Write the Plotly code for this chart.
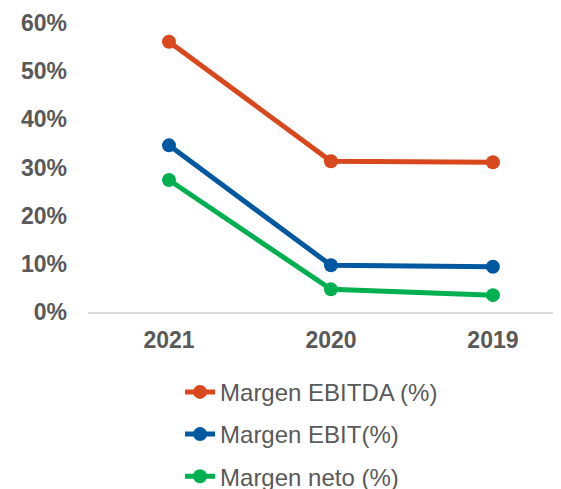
import plotly.graph_objects as go

years = ["2021", "2020", "2019"]
ebitda = [56.1, 31.3, 31.1]
ebit = [34.6, 9.7, 9.4]
neto = [27.4, 4.7, 3.5]
y_ticks = [0, 10, 20, 30, 40, 50, 60]
y_tick_labels = ["0%", "10%", "20%", "30%", "40%", "50%", "60%"]

series = [
    ("Margen EBITDA (%)", ebitda, "#D9481C"),
    ("Margen EBIT(%)", ebit, "#0059A0"),
    ("Margen neto (%)", neto, "#00B050"),
]

fig = go.Figure()
for i, (name, vals, col) in enumerate(series):
    fig.add_trace(go.Scatter(
        x=years, y=vals, name=name, mode="lines+markers",
        line=dict(color=col, width=5),
        marker=dict(color=col, size=14),
        legendgroup=f"g{i}",
    ))

fig.update_layout(
    width=561, height=489,
    margin=dict(l=80, r=9, t=15, b=185, autoexpand=False),
    paper_bgcolor="white", plot_bgcolor="white",
    font=dict(family="Liberation Sans, Arial, sans-serif", color="#595959"),
    showlegend=True,
    legend=dict(
        orientation="v", x=0.195, xanchor="left", y=-0.2, yanchor="top",
        font=dict(size=24, color="#595959"),
        tracegroupgap=8, bgcolor="rgba(0,0,0,0)",
    ),
    xaxis=dict(
        type="category", range=[-0.5, 2.414], automargin=False,
        showgrid=False, showline=True, linecolor="#D9D9D9", linewidth=2,
        tickfont=dict(size=23, color="#595959", family="Liberation Sans, Arial, sans-serif", weight="bold"),
        ticks="", ticklabelstandoff=6, zeroline=False,
    ),
    yaxis=dict(
        range=[0, 60], tickvals=y_ticks, ticktext=y_tick_labels, automargin=False,
        showgrid=False, showline=False, zeroline=False,
        tickfont=dict(size=23, color="#595959", family="Liberation Sans, Arial, sans-serif", weight="bold"),
        ticks="", ticklabelstandoff=20,
    ),
)

fig.write_html("out.html")
